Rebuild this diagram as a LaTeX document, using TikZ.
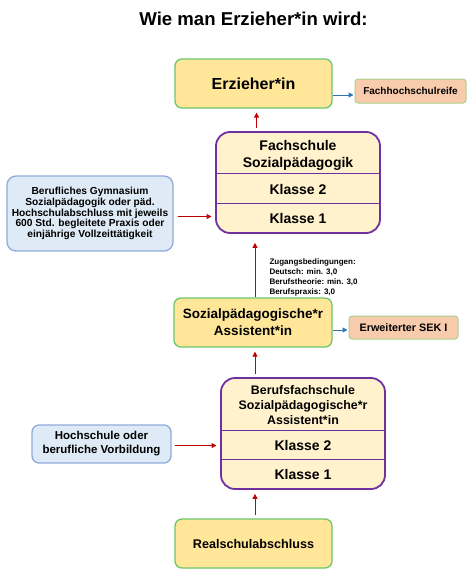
\documentclass[tikz,border=0pt]{standalone}
\usepackage{fontspec}
\setmainfont{Liberation Sans}
\usetikzlibrary{arrows.meta}

\definecolor{goalfill}{HTML}{FFE699}
\definecolor{goalline}{HTML}{6CC76C}
\definecolor{schoolfill}{HTML}{FFF2CC}
\definecolor{schoolline}{HTML}{7030A0}
\definecolor{sidefill}{HTML}{DEEBF7}
\definecolor{sideline}{HTML}{8FAADC}
\definecolor{notefill}{HTML}{F8CBAD}
\definecolor{noteline}{HTML}{A9D18E}
\definecolor{redline}{HTML}{C00000}
\definecolor{blueline}{HTML}{2E75B6}

\begin{document}
\begin{tikzpicture}[
        x=1pt, y=-1pt,
        >={Triangle[length=5pt,width=5pt]},
        every node/.style={align=center, inner sep=0pt},
        every path/.style={line width=1pt},
        goal/.style={draw=goalline, fill=goalfill, rounded corners=7pt, line width=1.3pt},
        school/.style={draw=schoolline, fill=schoolfill, rounded corners=14pt, line width=1.8pt, minimum width=164pt},
        row/.style={minimum width=164pt},
        side/.style={draw=sideline, fill=sidefill, rounded corners=9pt, line width=1.3pt},
        note/.style={draw=noteline, fill=notefill, rounded corners=3pt, line width=1pt},
        divider/.style={draw=schoolline, line width=1.8pt},
        redarrow/.style={->, draw=redline},
        bluearrow/.style={->, draw=blueline}
    ]
    \useasboundingbox (0,0) rectangle (473,584);

    % Nodes
    \node[font=\bfseries\fontsize{18.6}{22}\selectfont] (title) at (253.5,19) {Wie man Erzieher*in wird:};

    \node[goal, minimum width=157pt, minimum height=49pt, font=\bfseries\fontsize{16}{19}\selectfont] (erz) at (253.5,83.5) {Erzieher*in};
    \node[note, minimum width=111pt, minimum height=24pt, font=\bfseries\fontsize{10}{12}\selectfont] (fhr) at (410.5,91) {Fachhochschulreife};

    \node[school, minimum height=101pt] (fs) at (298,182.5) {};
    \node[row, minimum height=42pt, font=\bfseries\fontsize{14}{17}\selectfont] (fshead) at (298,155) {Fachschule\\Sozialpädagogik};
    \node[row, minimum height=30pt, font=\bfseries\fontsize{14}{17}\selectfont] (fsk2) at (298,189) {Klasse 2};
    \node[row, minimum height=29pt, font=\bfseries\fontsize{14}{17}\selectfont] (fsk1) at (298,218.5) {Klasse 1};

    \node[side, minimum width=166pt, minimum height=75pt, font=\bfseries\fontsize{10.2}{10.8}\selectfont] (gym) at (90,213.5) {Berufliches Gymnasium\\Sozialpädagogik oder päd.\\Hochschulabschluss mit jeweils\\600 Std. begleitete Praxis oder\\einjährige Vollzeittätigkeit};

    \node[anchor=north west, align=left, font=\bfseries\fontsize{8}{10}\selectfont] (cond) at (269,258) {Zugangsbedingungen:\\Deutsch: min. 3,0\\Berufstheorie: min. 3,0\\Berufspraxis: 3,0};

    \node[goal, minimum width=158pt, minimum height=49pt, font=\bfseries\fontsize{13.5}{16.7}\selectfont] (sa) at (253,322.5) {Sozialpädagogische*r\\Assistent*in};
    \node[note, minimum width=109pt, minimum height=23pt, font=\bfseries\fontsize{10.8}{13}\selectfont] (sek) at (403.5,327.5) {Erweiterter SEK I};

    \node[school, minimum height=111pt] (bfs) at (303,433.5) {};
    \node[row, minimum height=53pt, font=\bfseries\fontsize{12.4}{14.7}\selectfont] (bfshead) at (303,405) {Berufsfachschule\\Sozialpädagogische*r\\Assistent*in};
    \node[row, minimum height=29pt, font=\bfseries\fontsize{14}{17}\selectfont] (bfsk2) at (303,445.5) {Klasse 2};
    \node[row, minimum height=29pt, font=\bfseries\fontsize{14}{17}\selectfont] (bfsk1) at (303,474.5) {Klasse 1};

    \node[side, rounded corners=7pt, minimum width=139pt, minimum height=38pt, font=\bfseries\fontsize{11.5}{14}\selectfont] (hs) at (101.5,444) {Hochschule oder\\berufliche Vorbildung};

    \node[goal, minimum width=157pt, minimum height=49pt, font=\bfseries\fontsize{12.6}{15}\selectfont] (rs) at (253.5,543.5) {Realschulabschluss};

    % Rows
    \draw[divider] (fsk2.north west) -- (fsk2.north east);
    \draw[divider] (fsk1.north west) -- (fsk1.north east);
    \draw[divider] (bfsk2.north west) -- (bfsk2.north east);
    \draw[divider] (bfsk1.north west) -- (bfsk1.north east);

    % Edges
    \draw[redarrow, shorten <=3pt, shorten >=4pt] ([xshift=3pt]erz.south |- fs.north) -- ([xshift=3pt]erz.south);
    \draw[redarrow, shorten >=9pt] ([xshift=2pt]sa.north) -- ([xshift=2pt]sa.north |- fs.south);
    \draw[redarrow, shorten <=3pt, shorten >=4pt] ([xshift=2pt]sa.south |- bfs.north) -- ([xshift=2pt]sa.south);
    \draw[redarrow, shorten <=3pt, shorten >=4pt] ([xshift=1.5pt]rs.north) -- ([xshift=1.5pt]rs.north |- bfs.south);
    \draw[redarrow, shorten <=4pt, shorten >=4pt] ([yshift=2pt]gym.east |- fsk1.west) -- ([yshift=2pt]fsk1.west);
    \draw[redarrow, shorten <=3pt, shorten >=4pt] (hs.east |- bfsk2.west) -- (bfsk2.west);
    \draw[bluearrow, shorten >=1pt] ([yshift=-4pt]erz.east |- fhr.west) -- ([yshift=-4pt]fhr.west);
    \draw[bluearrow, shorten >=1pt] ([yshift=-2.5pt]sa.east |- sek.west) -- ([yshift=-2.5pt]sek.west);

\end{tikzpicture}
\end{document}
